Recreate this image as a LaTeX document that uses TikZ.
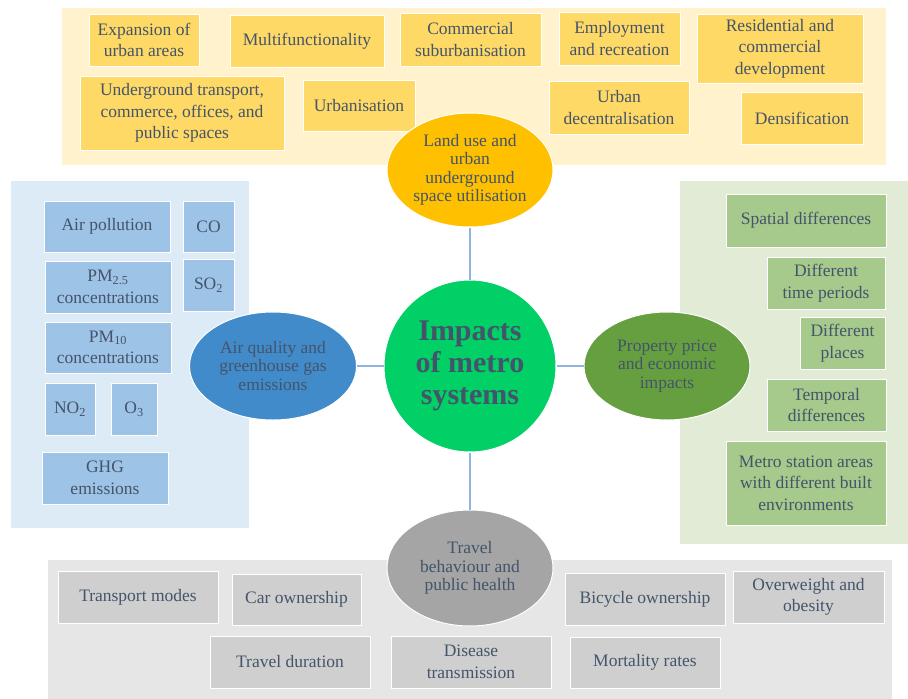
\documentclass[tikz,border=0pt]{standalone}
\usepackage{fontspec}
\setmainfont{Liberation Serif}
\usetikzlibrary{shapes.geometric}
\definecolor{txt}{HTML}{44546A}
\definecolor{pY}{HTML}{FFF2CC}
\definecolor{bY}{HTML}{FFD966}
\definecolor{eY}{HTML}{FFC000}
\definecolor{pB}{HTML}{DDEBF7}
\definecolor{bB}{HTML}{9DC3E6}
\definecolor{eB}{HTML}{418BCA}
\definecolor{pG}{HTML}{E2EBD6}
\definecolor{bG}{HTML}{A6C98C}
\definecolor{eG}{HTML}{669F3F}
\definecolor{pK}{HTML}{E7E6E6}
\definecolor{bK}{HTML}{CFCFCF}
\definecolor{eK}{HTML}{A5A5A5}
\definecolor{cC}{HTML}{00D066}
\definecolor{ln}{HTML}{8FB4E3}
\tikzset{
  bx/.style={inner sep=0pt, align=center, text=txt,
    font=\fontsize{17.5}{21.5}\selectfont, draw=white, line width=0.4pt},
  ybox/.style={bx, fill=bY},
  bbox/.style={bx, fill=bB},
  gbox/.style={bx, fill=bG},
  kbox/.style={bx, fill=bK},
  ell/.style={ellipse, inner sep=0pt, align=center, text=txt, draw=white,
    line width=1pt, font=\fontsize{17.5}{18.5}\selectfont},
  conn/.style={draw=ln, line width=1.6pt},
}
\begin{document}
\begin{tikzpicture}[x=1pt,y=-1pt]
\useasboundingbox (0,0) rectangle (908,699);
% panels
\fill[pY] (62,8) rectangle (886,165);
\fill[pB] (11,181) rectangle (249,528);
\fill[pG] (680,181) rectangle (908,544);
\fill[pK] (48,560) rectangle (892,699);
% top boxes
\node[ybox, minimum width=110, minimum height=52] (t1) at (144,40) {Expansion of\\urban areas};
\node[ybox, minimum width=154, minimum height=52] (t2) at (307,41) {Multifunctionality};
\node[ybox, minimum width=141, minimum height=53] (t3) at (470.5,39.5) {Commercial\\suburbanisation};
\node[ybox, minimum width=121, minimum height=53] (t4) at (619.5,38.5) {Employment\\and recreation};
\node[ybox, minimum width=166, minimum height=69] (t5) at (780,48.5) {Residential and\\commercial\\development};
\node[ybox, minimum width=204, minimum height=74] (t6) at (182,113) {Underground transport,\\commerce, offices, and\\public spaces};
\node[ybox, minimum width=112, minimum height=51] (t7) at (359,105.5) {Urbanisation};
\node[ybox, minimum width=140, minimum height=53] (t8) at (619,107.5) {Urban\\decentralisation};
\node[ybox, minimum width=122, minimum height=52] (t9) at (802,118) {Densification};
% left boxes
\node[bbox, minimum width=126, minimum height=51] (l1) at (107,226.5) {Air pollution};
\node[bbox, minimum width=51, minimum height=51] (l2) at (208.5,226.5) {CO};
\node[bbox, minimum width=126, minimum height=52] (l3) at (108,287) {PM\textsubscript{2.5}\\concentrations};
\node[bbox, minimum width=51, minimum height=52] (l4) at (208.5,285) {SO\textsubscript{2}};
\node[bbox, minimum width=126, minimum height=51] (l5) at (108,347.5) {PM\textsubscript{10}\\concentrations};
\node[bbox, minimum width=50, minimum height=52] (l6) at (70,409) {NO\textsubscript{2}};
\node[bbox, minimum width=46, minimum height=52] (l7) at (134,409) {O\textsubscript{3}};
\node[bbox, minimum width=126, minimum height=52] (l8) at (105,478) {GHG\\emissions};
% right boxes
\node[gbox, minimum width=160, minimum height=53] (r1) at (806,220.5) {Spatial differences};
\node[gbox, minimum width=118, minimum height=52] (r2) at (826,283) {Different\\time periods};
\node[gbox, minimum width=85, minimum height=52] (r3) at (842.5,343) {Different\\places};
\node[gbox, minimum width=119, minimum height=52] (r4) at (826.5,405) {Temporal\\differences};
\node[gbox, minimum width=160, minimum height=84] (r5) at (806,483) {Metro station areas\\with different built\\environments};
% bottom boxes
\node[kbox, minimum width=160, minimum height=52] (b1) at (138,597) {Transport modes};
\node[kbox, minimum width=129, minimum height=51] (b2) at (296.5,599.5) {Car ownership};
\node[kbox, minimum width=160, minimum height=52] (b3) at (645,599) {Bicycle ownership};
\node[kbox, minimum width=151, minimum height=52] (b4) at (808.5,597) {Overweight and\\obesity};
\node[kbox, minimum width=160, minimum height=52] (b5) at (290,662) {Travel duration};
\node[kbox, minimum width=160, minimum height=52] (b6) at (471,662) {Disease\\transmission};
\node[kbox, minimum width=150, minimum height=51] (b7) at (645,662.5) {Mortality rates};
% hub and themes
\node[circle, fill=cC, draw=white, line width=1pt, minimum size=172, inner sep=0pt,
  align=center, text=txt, font=\fontsize{30}{32}\selectfont\bfseries] (hub) at (470,366) {Impacts\\of metro\\systems};
\node[ell, fill=eY, minimum width=166, minimum height=114] (land) at (470,170) {Land use and\\urban\\underground\\space utilisation};
\node[ell, fill=eB, minimum width=167, minimum height=108] (air) at (273,366) {Air quality and\\greenhouse gas\\emissions};
\node[ell, fill=eG, minimum width=166, minimum height=108] (prop) at (667,366) {Property price\\and economic\\impacts};
\node[ell, fill=eK, minimum width=166, minimum height=116] (trav) at (470,568) {Travel\\behaviour and\\public health};
% connectors
\draw[conn] (hub) -- (land);
\draw[conn] (hub) -- (air);
\draw[conn] (hub) -- (prop);
\draw[conn] (hub) -- (trav);
\end{tikzpicture}
\end{document}
